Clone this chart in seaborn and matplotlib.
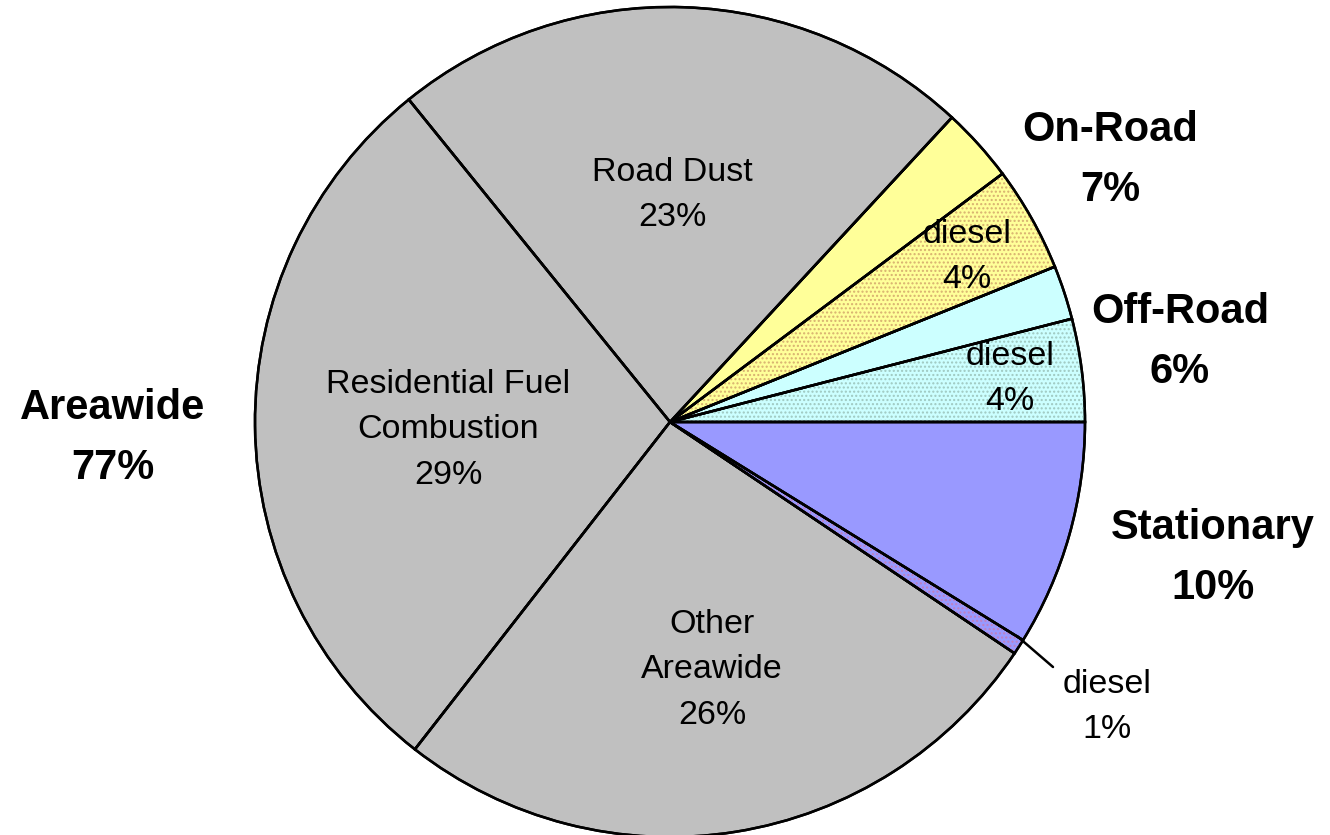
import matplotlib
matplotlib.use("Agg")
import matplotlib.pyplot as plt
import seaborn as sns

# ---- data ----
slice_names = ["Off-Road diesel", "Off-Road other", "On-Road diesel", "On-Road other",
               "Road Dust", "Residential Fuel Combustion", "Other Areawide",
               "Stationary diesel", "Stationary other"]
slice_values = [4.0, 2.1, 4.1, 2.9, 22.7, 28.6, 26.1, 0.6, 8.8]
slice_colors = ["#CCFFFF", "#CCFFFF", "#FFFF99", "#FFFF99",
                "#C0C0C0", "#C0C0C0", "#C0C0C0", "#9999FF", "#9999FF"]
dotted = [True, False, True, False, False, False, False, True, False]
dot_colors = ["#9fc8c0", None, "#d8b070", None, None, None, None, "#c080c0", None]

inner_labels = ["Road Dust\n23%", "Residential Fuel\nCombustion\n29%", "Other\nAreawide\n26%",
                "diesel\n4%", "diesel\n4%", "diesel\n1%"]
group_labels = ["On-Road\n7%", "Off-Road\n6%", "Stationary\n10%", "Areawide\n77%"]

sns.set_theme(style="white")
plt.rcParams["font.family"] = ["Liberation Sans", "DejaVu Sans"]
plt.rcParams["hatch.linewidth"] = 1.0

W, H = 1330, 835
fig = plt.figure(figsize=(W / 100, H / 100), dpi=100)
cx, cy, R = 670, 422, 415
pad = 1.02
ax = fig.add_axes([(cx - R * pad) / W, (H - cy - R * pad) / H, 2 * R * pad / W, 2 * R * pad / H])

wedges, _ = ax.pie(slice_values, colors=slice_colors, startangle=0, counterclock=True,
                   wedgeprops=dict(edgecolor="black", linewidth=1.8))
ov, _ = ax.pie(slice_values, colors=["none"] * len(slice_values), startangle=0, counterclock=True,
               wedgeprops=dict(linewidth=0))
for w, d, c in zip(ov, dotted, dot_colors):
    if d:
        w.set_hatch("....")
        w.set_edgecolor(c)
        w.set_facecolor("none")
    else:
        w.set_visible(False)
for w in wedges:
    w.set_zorder(1)
for w in ov:
    w.set_zorder(2)
ol, _ = ax.pie(slice_values, colors=["none"] * len(slice_values), startangle=0, counterclock=True,
               wedgeprops=dict(edgecolor="black", linewidth=1.8, facecolor="none"))
for w in ol:
    w.set_zorder(3)

ax.set_xlim(-pad, pad)
ax.set_ylim(-pad, pad)
ax.set_aspect("equal")
ax.axis("off")


def px(x, y):
    return ((x - cx) / R, (cy - y) / R)


inner_pos = [(672, 195), (448, 430), (712, 670), (967, 257), (1010, 379), (1107, 707)]
for lab, (x, y) in zip(inner_labels, inner_pos):
    X, Y = px(x, y)
    ax.text(X, Y, lab, ha="center", va="center", fontsize=24.5, linespacing=1.62,
            color="black", clip_on=False, zorder=5)

group_pos = [(1110, 160), (1180, 342), (1213, 558), (113, 438)]
for lab, (x, y) in zip(group_labels, group_pos):
    X, Y = px(x, y)
    ax.text(X, Y, lab, ha="center", va="center", fontsize=30, fontweight="bold",
            linespacing=1.64, color="black", clip_on=False, zorder=5)

x0, y0 = px(1017, 636)
x1, y1 = px(1053, 667)
ax.plot([x0, x1], [y0, y1], color="black", linewidth=1.8, clip_on=False, zorder=5)

fig.savefig("out.png", dpi=100)
